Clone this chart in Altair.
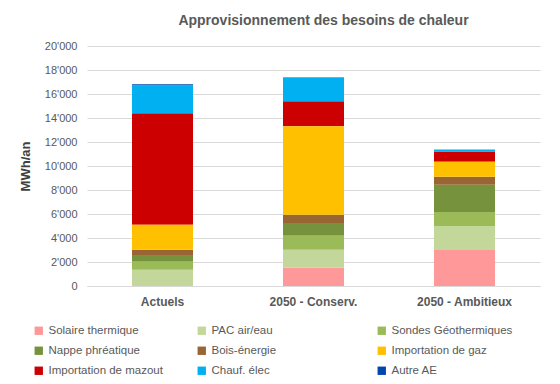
import altair as alt
import pandas as pd

scenarios = ["Actuels", "2050 - Conserv.", "2050 - Ambitieux"]
sources = ["Solaire thermique", "PAC air/eau", "Sondes Géothermiques",
           "Nappe phréatique", "Bois-énergie", "Importation de gaz",
           "Importation de mazout", "Chauf. élec", "Autre AE"]
colors = ["#FF9999", "#C4D79B", "#9BBB59", "#76923C", "#996633",
          "#FFC000", "#CC0000", "#00B0F0", "#0047AB"]

actuels = [0, 1350, 670, 560, 440, 2080, 9300, 2330, 80]
conserv = [1520, 1500, 1160, 1080, 670, 7390, 2080, 2000, 0]
ambitieux = [3000, 2000, 1170, 2260, 670, 1250, 860, 170, 0]

rows = []
for scen, vals in zip(scenarios, [actuels, conserv, ambitieux]):
    for i, (src, v) in enumerate(zip(sources, vals)):
        rows.append({"scenario": scen, "source": src, "value": v, "ord": i,
                     "col": i % 3})
df = pd.DataFrame(rows)

font = "Liberation Sans"
grey = "#595959"
legend_x = [-54, 109, 289]

base = alt.Chart(df).transform_stack(
    stack="value", groupby=["scenario"], as_=["y0", "y1"],
    sort=[alt.SortField("ord", order="ascending")],
)

layers = []
for c in range(3):
    dom = [sources[i] for i in range(c, 9, 3)]
    rng = [colors[i] for i in range(c, 9, 3)]
    layers.append(
        base.transform_filter(alt.datum.col == c).mark_bar(size=61).encode(
            x=alt.X("scenario:N", sort=scenarios, title=None,
                    scale=alt.Scale(paddingInner=0.6, paddingOuter=0.3),
                    axis=alt.Axis(labelAngle=0, labelFontWeight="bold",
                                  labelFontSize=12, labelColor=grey,
                                  labelFont=font, ticks=False,
                                  domainColor="#D9D9D9", labelPadding=10)),
            y=alt.Y("y0:Q", title="MWh/an",
                    scale=alt.Scale(domain=[0, 20000]),
                    axis=alt.Axis(values=list(range(0, 20001, 2000)), format=",d",
                                  labelExpr="replace(datum.label, ',', \"'\")",
                                  labelColor=grey, labelFont=font, labelFontSize=11,
                                  titleFont=font, titleFontSize=13,
                                  titleFontWeight="bold", titleColor="#404040",
                                  titlePadding=12, gridColor="#D9D9D9",
                                  domain=False, ticks=False, labelPadding=10)),
            y2="y1:Q",
            color=alt.Color("source:N", sort=dom,
                            scale=alt.Scale(domain=dom, range=rng),
                            legend=alt.Legend(orient="none", legendX=legend_x[c],
                                              legendY=279, direction="vertical",
                                              title=None, symbolType="square",
                                              symbolSize=70, symbolStrokeWidth=0,
                                              labelFont=font, labelFontSize=11.5,
                                              labelColor=grey, rowPadding=7,
                                              labelLimit=200)),
        )
    )

chart = alt.layer(*layers).resolve_scale(color="independent").properties(
    width=453, height=240,
    autosize=alt.AutoSizeParams(type="none"),
    padding={"left": 79, "top": 38, "right": 12, "bottom": 96},
    title=alt.TitleParams("Approvisionnement des besoins de chaleur",
                          font=font, fontSize=14, fontWeight="bold",
                          color=grey, anchor="middle", dx=10, offset=12),
).configure_view(stroke=None)

chart.save("out.html", embed_options={"renderer": "svg", "actions": False})
